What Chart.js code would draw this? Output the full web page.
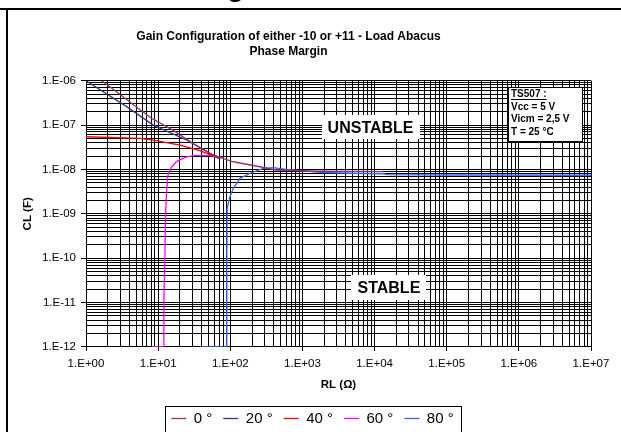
<!DOCTYPE html>
<html>
<head>
<meta charset="utf-8">
<script src="https://cdn.jsdelivr.net/npm/chart.js@4.4.1/dist/chart.umd.min.js"></script>
<style>
  html, body { margin: 0; padding: 0; background: #fff; }
  body { width: 621px; height: 432px; position: relative; overflow: hidden; font-family: "Liberation Sans", Arial, sans-serif; }
  #topRule { position: absolute; left: 0; top: 8px; width: 621px; height: 2px; background: #000; }
  #leftRule { position: absolute; left: 6px; top: 8px; width: 2px; height: 424px; background: #000; }
  #headGlyph { position: absolute; left: 227px; top: -27px; font: bold 28px/28px "Liberation Sans", Arial, sans-serif; color: #000; }
  #chartBox { position: absolute; left: 8px; top: 10px; }
</style>
</head>
<body>
<div id="headGlyph">g</div>
<div id="topRule"></div>
<div id="leftRule"></div>
<div id="chartBox"><canvas id="abacus" width="613" height="426"></canvas></div>
<script>
const FONT = '"Liberation Sans", Arial, sans-serif';

const titleLines = ['Gain Configuration of either -10 or +11 - Load Abacus', 'Phase Margin'];
const xAxisTitle = 'RL (Ω)';
const yAxisTitle = 'CL (F)';

const seriesLabels = ['0 °', '20 °', '40 °', '60 °', '80 °'];
const seriesColors = ['#993366', '#333399', '#FF0000', '#FF00FF', '#3366FF'];

const xTickLabels = ['1.E+00', '1.E+01', '1.E+02', '1.E+03', '1.E+04', '1.E+05', '1.E+06', '1.E+07'];
const yTickLabels = ['1.E-12', '1.E-11', '1.E-10', '1.E-09', '1.E-08', '1.E-07', '1.E-06'];
const xDecades = [1, 10, 100, 1e3, 1e4, 1e5, 1e6, 1e7];
const yDecades = [1e-12, 1e-11, 1e-10, 1e-9, 1e-8, 1e-7, 1e-6];
const minorSteps = [2, 3, 4, 5, 6, 7, 8, 9];

// RL (ohm) / CL (F)
const rl0 = [1.65, 3, 5, 8.1, 16, 30, 58, 110, 257, 437, 1740, 5000, 13000];
const cl0 = [1e-6, 4.8e-7, 2.55e-7, 1.42e-7, 7.7e-8, 3.9e-8, 2.1e-8, 1.49e-8, 1.15e-8, 9.7e-9, 9.2e-9, 9.0e-9, 8.9e-9];

const rl20 = [1, 3.66, 8.55, 24.8, 58, 75];
const cl20 = [1e-6, 2.6e-7, 1e-7, 4.6e-8, 2.1e-8, 1.8e-8];

const rl40 = [1, 5.6, 8.55, 20, 38, 58, 70];
const cl40 = [5.46e-8, 5e-8, 4.6e-8, 3.55e-8, 2.64e-8, 2e-8, 1.78e-8];

const rl60 = [8.1, 11.7, 12.0, 12.4, 12.7, 13.2, 13.8, 15.4, 18, 23.5, 30.5, 58, 75];
const cl60 = [1e-12, 1e-12, 1e-11, 1e-10, 1e-9, 4e-9, 8.1e-9, 1.15e-8, 1.5e-8, 1.87e-8, 2.04e-8, 2.04e-8, 1.87e-8];

const rl80 = [38, 87.5, 89, 90, 90.5, 98.6, 110, 136, 186, 286, 392, 600, 1740, 5000, 13000, 15000, 1e5, 1e7];
const cl80 = [1e-12, 1e-12, 1e-11, 1e-10, 1.32e-9, 2.4e-9, 3.7e-9, 6.3e-9, 8.1e-9, 1.06e-8, 1.1e-8, 1.0e-8, 8.6e-9, 8.2e-9, 8.0e-9, 7.6e-9, 7.5e-9, 7.4e-9];

const seriesRL = [rl0, rl20, rl40, rl60, rl80];
const seriesCL = [cl0, cl20, cl40, cl60, cl80];

const infoLines = ['TS507 :', 'Vcc = 5 V', 'Vicm = 2,5 V', 'T = 25 °C'];

function logTicks(decades) {
  const ticks = [];
  decades.forEach((d, i) => {
    ticks.push({ value: d, major: true });
    if (i < decades.length - 1) {
      minorSteps.forEach(m => ticks.push({ value: m * d, major: false }));
    }
  });
  return ticks;
}

function decadeLabel(value, labels, offset) {
  const e = Math.log10(value);
  const r = Math.round(e);
  return Math.abs(e - r) < 1e-6 ? (labels[r + offset] || '') : '';
}

const datasets = seriesLabels.map((label, i) => ({
  label: label,
  data: seriesRL[i].map((r, j) => ({ x: r, y: seriesCL[i][j] })),
  borderColor: seriesColors[i],
  backgroundColor: seriesColors[i],
  borderWidth: 1.3,
  pointRadius: 0,
  tension: 0,
  fill: false
}));

const framePlugin = {
  id: 'frameText',
  afterDatasetsDraw(chart, args, opts) {
    const { ctx, scales: { x, y } } = chart;
    ctx.save();
    ctx.fillStyle = '#000';
    ctx.textAlign = 'center';
    ctx.textBaseline = 'middle';
    ctx.font = 'bold 16px ' + FONT;
    opts.regions.forEach(r => {
      const cx = x.getPixelForValue(r.rl);
      const cy = y.getPixelForValue(r.cl);
      ctx.fillStyle = '#fff';
      ctx.fillRect(Math.round(cx - r.w / 2), Math.round(cy - r.h / 2), r.w, r.h);
      ctx.fillStyle = '#000';
      ctx.fillText(r.text, cx, cy + 1);
    });

    // conditions box
    const bx = Math.round(x.getPixelForValue(opts.info.rl));
    const by = Math.round(y.getPixelForValue(opts.info.cl));
    ctx.fillStyle = '#fff';
    ctx.fillRect(bx, by, opts.info.w, opts.info.h);
    ctx.strokeStyle = '#000';
    ctx.lineWidth = 1;
    ctx.strokeRect(bx + 0.5, by + 0.5, opts.info.w, opts.info.h);
    ctx.fillStyle = '#000';
    ctx.font = 'bold 10px ' + FONT;
    ctx.textAlign = 'left';
    ctx.textBaseline = 'alphabetic';
    infoLines.forEach((t, i) => {
      ctx.fillText(t, bx + 3, by + 10 + i * 12.5);
    });
    const uw = ctx.measureText(infoLines[0]).width;
    ctx.fillRect(bx + 3, by + 12, uw, 1);
    ctx.restore();
  },
  afterDraw(chart, args, opts) {
    const ctx = chart.ctx;
    ctx.save();
    ctx.fillStyle = '#000';
    ctx.font = 'bold 12px ' + FONT;
    ctx.textAlign = 'center';
    ctx.textBaseline = 'middle';
    titleLines.forEach((t, i) => ctx.fillText(t, opts.titleX, opts.titleY[i]));

    // frame around the legend
    const boxes = chart.legend.legendHitBoxes;
    const left = Math.min(...boxes.map(b => b.left)) - 6;
    const right = Math.max(...boxes.map(b => b.left + b.width)) + 8;
    const top = boxes[0].top - 5;
    const bottom = boxes[0].top + boxes[0].height + 6;
    ctx.strokeStyle = '#000';
    ctx.lineWidth = 1;
    ctx.strokeRect(Math.round(left) + 0.5, Math.round(top) + 0.5, Math.round(right - left), Math.round(bottom - top));
    ctx.restore();
  }
};

new Chart(document.getElementById('abacus'), {
  type: 'line',
  data: { datasets: datasets },
  plugins: [framePlugin],
  options: {
    responsive: false,
    animation: false,
    devicePixelRatio: 1,
    layout: { padding: { top: 70.7, left: 26, right: 30, bottom: 0 } },
    scales: {
      x: {
        type: 'logarithmic',
        min: 1,
        max: 1e7,
        afterBuildTicks: scale => { scale.ticks = logTicks(xDecades); },
        afterFit: scale => { scale.height = 53.1; },
        ticks: {
          autoSkip: false,
          maxRotation: 0,
          minRotation: 0,
          padding: 6,
          color: '#000',
          font: { family: FONT, size: 11.5 },
          callback: value => decadeLabel(value, xTickLabels, 0)
        },
        grid: {
          color: '#000',
          lineWidth: 1,
          tickLength: 4,
          tickColor: c => (c.tick && c.tick.major ? '#000' : 'rgba(0,0,0,0)')
        },
        border: { color: '#000' },
        title: {
          display: true,
          text: xAxisTitle,
          color: '#000',
          font: { family: FONT, size: 11.5, weight: 'bold' },
          padding: { top: 0, bottom: 7.9 }
        }
      },
      y: {
        type: 'logarithmic',
        min: 1e-12,
        max: 1e-6,
        afterBuildTicks: scale => { scale.ticks = logTicks(yDecades); },
        afterFit: scale => { scale.width = 52; },
        ticks: {
          autoSkip: false,
          padding: 5,
          color: '#000',
          font: { family: FONT, size: 11.5 },
          callback: value => decadeLabel(value, yTickLabels, 12)
        },
        grid: {
          color: '#000',
          lineWidth: 1,
          tickLength: 5,
          tickColor: c => (c.tick && c.tick.major ? '#000' : 'rgba(0,0,0,0)')
        },
        border: { color: '#000' },
        title: {
          display: true,
          text: yAxisTitle,
          color: '#000',
          font: { family: FONT, size: 11.5, weight: 'bold' },
          padding: { top: -13.2, bottom: 0 }
        }
      }
    },
    plugins: {
      legend: {
        position: 'bottom',
        labels: {
          usePointStyle: true,
          pointStyle: 'line',
          pointStyleWidth: 15,
          padding: 11,
          color: '#000',
          font: { family: FONT, size: 15 }
        }
      },
      tooltip: { enabled: false },
      frameText: {
        titleX: 280.5,
        titleY: [26.7, 42],
        regions: [
          { text: 'UNSTABLE', rl: 8800, cl: 8.9e-8, w: 98, h: 24 },
          { text: 'STABLE', rl: 15800, cl: 2.16e-11, w: 75, h: 25 }
        ],
        info: { rl: 7e5, cl: 7.1e-7, w: 74, h: 54 }
      }
    }
  }
});
</script>
</body>
</html>
